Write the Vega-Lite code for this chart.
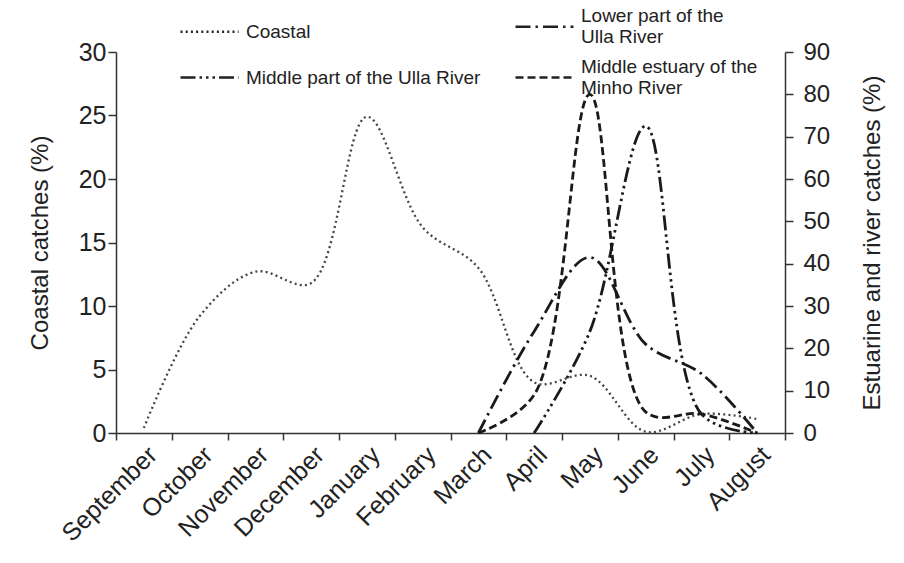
{
  "$schema": "https://vega.github.io/schema/vega-lite/v6.json",
  "width": 669,
  "height": 381,
  "autosize": {"type": "none"},
  "padding": {"left": 116, "top": 52, "right": 119, "bottom": 130},
  "background": "white",
  "config": {
    "view": {"stroke": null},
    "font": "Liberation Sans",
    "axis": {
      "domainColor": "#333",
      "domainWidth": 1.5,
      "tickColor": "#333",
      "tickWidth": 1.5,
      "labelColor": "#222",
      "titleColor": "#222",
      "titleFontWeight": "normal",
      "grid": false
    }
  },
  "data": {
    "values": [
      {"month": "September", "series": "Coastal", "value": 0.4},
      {"month": "October", "series": "Coastal", "value": 9.2},
      {"month": "November", "series": "Coastal", "value": 12.7},
      {"month": "December", "series": "Coastal", "value": 11.8},
      {"month": "January", "series": "Coastal", "value": 24.9},
      {"month": "February", "series": "Coastal", "value": 16.2},
      {"month": "March", "series": "Coastal", "value": 13.0},
      {"month": "April", "series": "Coastal", "value": 4.0},
      {"month": "May", "series": "Coastal", "value": 4.5},
      {"month": "June", "series": "Coastal", "value": 0.1},
      {"month": "July", "series": "Coastal", "value": 1.5},
      {"month": "August", "series": "Coastal", "value": 1.1},
      {"month": "March", "series": "Lower part of the Ulla River", "value": 0},
      {"month": "April", "series": "Lower part of the Ulla River", "value": 24},
      {"month": "May", "series": "Lower part of the Ulla River", "value": 41.5},
      {"month": "June", "series": "Lower part of the Ulla River", "value": 21},
      {"month": "July", "series": "Lower part of the Ulla River", "value": 14},
      {"month": "August", "series": "Lower part of the Ulla River", "value": 0},
      {"month": "April", "series": "Middle part of the Ulla River", "value": 0},
      {"month": "May", "series": "Middle part of the Ulla River", "value": 24},
      {"month": "June", "series": "Middle part of the Ulla River", "value": 72.5},
      {"month": "July", "series": "Middle part of the Ulla River", "value": 4.5},
      {"month": "August", "series": "Middle part of the Ulla River", "value": 0},
      {"month": "March", "series": "Middle estuary of the Minho River", "value": 0},
      {"month": "April", "series": "Middle estuary of the Minho River", "value": 9},
      {"month": "May", "series": "Middle estuary of the Minho River", "value": 80},
      {"month": "June", "series": "Middle estuary of the Minho River", "value": 5},
      {"month": "July", "series": "Middle estuary of the Minho River", "value": 4.5},
      {"month": "August", "series": "Middle estuary of the Minho River", "value": 0}
    ]
  },
  "encoding": {
    "x": {
      "field": "month",
      "type": "ordinal",
      "sort": ["September", "October", "November", "December", "January", "February", "March", "April", "May", "June", "July", "August"],
      "scale": {"type": "band", "paddingInner": 0, "paddingOuter": 0},
      "axis": {
        "title": null,
        "tickBand": "extent",
        "tickSize": 7,
        "labelAngle": -45,
        "labelAlign": "right",
        "labelBaseline": "top",
        "labelFontSize": 25,
        "labelPadding": 2
      }
    }
  },
  "layer": [
    {
      "transform": [{"filter": "datum.series === 'Coastal'"}],
      "mark": {"type": "line", "interpolate": "catmull-rom", "strokeWidth": 2.3, "color": "#444"},
      "encoding": {
        "y": {
          "field": "value",
          "type": "quantitative",
          "scale": {"domain": [0, 30], "nice": false},
          "axis": {
            "title": "Coastal catches (%)",
            "values": [0, 5, 10, 15, 20, 25, 30],
            "tickSize": 8,
            "labelFontSize": 25,
            "labelPadding": 2,
            "titleFontSize": 24,
            "titlePadding": 26
          }
        },
        "strokeDash": {
          "field": "series",
          "type": "nominal",
          "scale": {
            "domain": ["Coastal", "Middle part of the Ulla River", "Lower part of the Ulla River", "Middle estuary of the Minho River"],
            "range": [[2, 3.2], [15, 4, 2.5, 4, 2.5, 4, 2.5, 4], [15, 5, 2.5, 5], [8, 4]]
          },
          "legend": {
            "title": null,
            "orient": "none",
            "legendX": 63,
            "legendY": -56,
            "columns": 2,
            "columnPadding": 29,
            "rowPadding": -14,
            "symbolType": "stroke",
            "symbolSize": 3364,
            "symbolStrokeWidth": 2.5,
            "symbolStrokeColor": "#222",
            "labelFontSize": 19,
            "labelColor": "#222",
            "labelOffset": 6,
            "labelLimit": 400,
            "labelLineHeight": 22,
            "labelExpr": "datum.label == 'Lower part of the Ulla River' ? ['Lower part of the', 'Ulla River'] : datum.label == 'Middle estuary of the Minho River' ? ['Middle  estuary of the', 'Minho River'] : datum.label",
            "encode": {
              "labels": {
                "update": {
                  "dy": {"signal": "datum.value === 'Lower part of the Ulla River' || datum.value === 'Middle estuary of the Minho River' ? -11 : 0"}
                }
              }
            }
          }
        }
      }
    },
    {
      "transform": [{"filter": "datum.series !== 'Coastal'"}],
      "mark": {"type": "line", "interpolate": "catmull-rom", "strokeWidth": 2.8, "color": "#1a1a1a"},
      "encoding": {
        "y": {
          "field": "value",
          "type": "quantitative",
          "scale": {"domain": [0, 90], "nice": false},
          "axis": {
            "orient": "right",
            "title": "Estuarine and river catches (%)",
            "values": [0, 10, 20, 30, 40, 50, 60, 70, 80, 90],
            "tickSize": 8,
            "labelFontSize": 24,
            "labelPadding": 10,
            "titleFontSize": 24,
            "titleAngle": 270,
            "titlePadding": 55
          }
        },
        "strokeDash": {
          "field": "series",
          "type": "nominal",
          "scale": {
            "domain": ["Coastal", "Middle part of the Ulla River", "Lower part of the Ulla River", "Middle estuary of the Minho River"],
            "range": [[2, 3.2], [15, 4, 2.5, 4, 2.5, 4, 2.5, 4], [15, 5, 2.5, 5], [8, 4]]
          }
        }
      }
    }
  ],
  "resolve": {"scale": {"y": "independent"}}
}
